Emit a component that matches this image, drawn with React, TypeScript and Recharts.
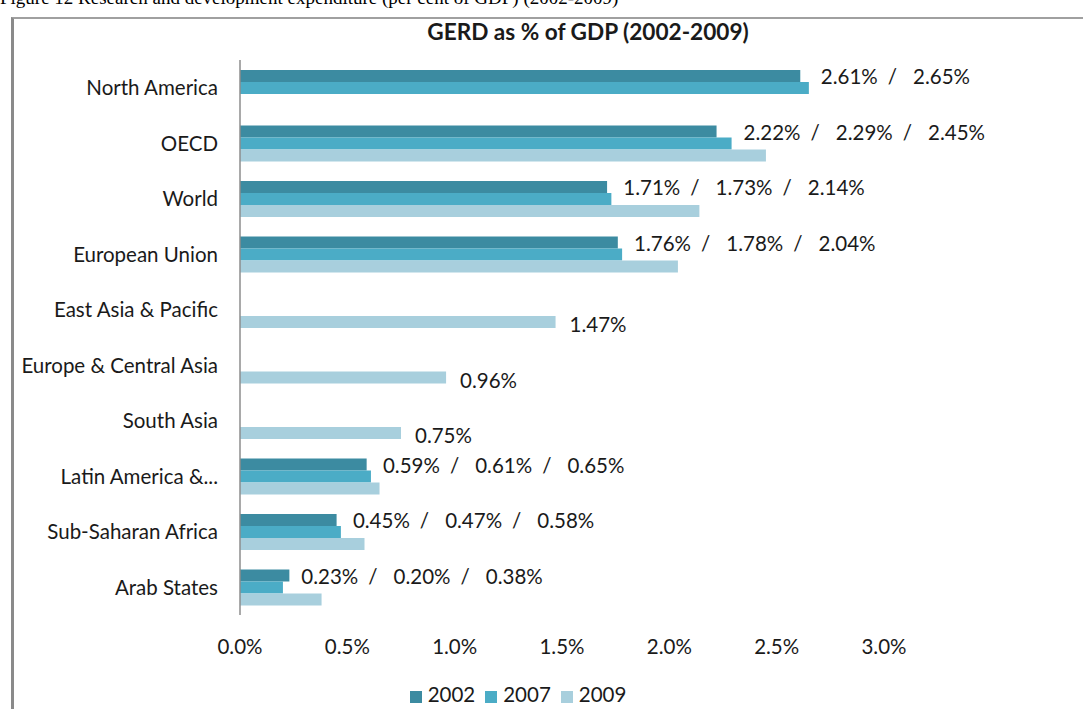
import { BarChart, Bar, XAxis, YAxis, Legend, LabelList } from 'recharts';

const regions = [
  'North America',
  'OECD',
  'World',
  'European Union',
  'East Asia & Pacific',
  'Europe & Central Asia',
  'South Asia',
  'Latin America &...',
  'Sub-Saharan Africa',
  'Arab States',
];

const gerd2002 = [2.61, 2.22, 1.71, 1.76, null, null, null, 0.59, 0.45, 0.23];
const gerd2007 = [2.65, 2.29, 1.73, 1.78, null, null, null, 0.61, 0.47, 0.2];
const gerd2009 = [null, 2.45, 2.14, 2.04, 1.47, 0.96, 0.75, 0.65, 0.58, 0.38];

const xTicks = [0, 0.5, 1, 1.5, 2, 2.5, 3];

const chartData = regions.map((name, i) => ({
  name,
  y2002: gerd2002[i],
  y2007: gerd2007[i],
  y2009: gerd2009[i],
}));

const FONT = 'Lato, "Open Sans", sans-serif';
const FS = 20.5;
const pct = (v: number) => `${v.toFixed(2)}%`;

// label for rows that have 2002/2007 values, drawn next to the 2007 bar
const PairLabel = (props: any) => {
  const { x, y, width, value } = props;
  const i = regions.indexOf(value);
  const a = gerd2002[i];
  const b = gerd2007[i];
  if (i < 0 || a == null || b == null) return null;
  const end2007 = x + width;
  const end2002 = x + (width * a) / b;
  const parts = [a, b, gerd2009[i]].filter((v) => v != null) as number[];
  return (
    <text
      x={Math.max(end2002, end2007) + 12}
      y={y - 6}
      dominantBaseline="central"
      fontFamily={FONT}
      fontSize={FS}
      fill="#1a1a1a"
    >
      {parts.map((v, k) => (
        <tspan key={k}>
          {k > 0 && <tspan dx={10}>/</tspan>}
          <tspan dx={k > 0 ? 16 : 0}>{pct(v)}</tspan>
        </tspan>
      ))}
    </text>
  );
};

// label for rows that only have a 2009 value
const SingleLabel = (props: any) => {
  const { x, y, width, height, value } = props;
  const i = regions.indexOf(value);
  if (i < 0 || gerd2007[i] != null || gerd2009[i] == null) return null;
  return (
    <text
      x={x + width + 14}
      y={y + height / 2 + 2}
      dominantBaseline="central"
      fontFamily={FONT}
      fontSize={FS}
      fill="#1a1a1a"
    >
      {pct(gerd2009[i] as number)}
    </text>
  );
};

export default function App() {
  return (
    <div
      style={{
        position: 'absolute',
        left: 0,
        top: 0,
        width: 1083,
        height: 709,
        overflow: 'hidden',
        background: '#fff',
      }}
    >
      <div
        style={{
          position: 'absolute',
          left: 0,
          top: -12,
          fontFamily: '"Liberation Serif", serif',
          fontSize: 19,
          lineHeight: '19px',
          whiteSpace: 'nowrap',
          color: '#000',
        }}
      >
        Figure 12 Research and development expenditure (per cent of GDP) (2002-2009)
      </div>
      <div
        style={{
          position: 'absolute',
          left: 11,
          top: 17,
          width: 1100,
          height: 720,
          borderLeft: '3px solid #8a8a8a',
          borderTop: '2px solid #a0a0a0',
        }}
      />
      <div
        style={{
          position: 'absolute',
          left: 0,
          top: 18,
          width: 1176,
          textAlign: 'center',
          fontFamily: FONT,
          fontWeight: 700,
          fontSize: 22.6,
          color: '#1a1a1a',
        }}
      >
        GERD as % of GDP (2002-2009)
      </div>
      <div style={{ position: 'absolute', left: 0, top: 0 }}>
        <BarChart
          width={1083}
          height={709}
          data={chartData}
          layout="vertical"
          margin={{ top: 60, right: 199, bottom: 0, left: 0 }}
          barGap={0}
          barSize={12}
        >
          <XAxis
            type="number"
            domain={[0, 3]}
            ticks={xTicks}
            axisLine={false}
            tickLine={false}
            tickFormatter={(v: number) => `${v.toFixed(1)}%`}
            tick={{ fontFamily: FONT, fontSize: FS, fill: '#1a1a1a' }}
            tickMargin={18}
            height={52}
          />
          <YAxis
            type="category"
            dataKey="name"
            width={240}
            axisLine={{ stroke: '#8c8c8c', strokeWidth: 1.5 }}
            tickLine={false}
            tickMargin={16}
            interval={0}
            tick={{ fontFamily: FONT, fontSize: FS, fill: '#1a1a1a' }}
          />
          <Legend
            verticalAlign="bottom"
            iconType="square"
            iconSize={12}
            height={42}
            wrapperStyle={{
              left: 0,
              width: 1046,
              top: 682,
              bottom: 'auto',
              fontFamily: FONT,
              fontSize: FS,
            }}
            formatter={(value: string) => (
              <span style={{ color: '#1a1a1a', marginLeft: 2 }}>{value}</span>
            )}
          />
          <Bar dataKey="y2002" name="2002" fill="#3C8BA1" isAnimationActive={false} />
          <Bar dataKey="y2007" name="2007" fill="#4BACC6" isAnimationActive={false}>
            <LabelList dataKey="name" content={PairLabel} />
          </Bar>
          <Bar dataKey="y2009" name="2009" fill="#A8CFDD" isAnimationActive={false}>
            <LabelList dataKey="name" content={SingleLabel} />
          </Bar>
        </BarChart>
      </div>
    </div>
  );
}
